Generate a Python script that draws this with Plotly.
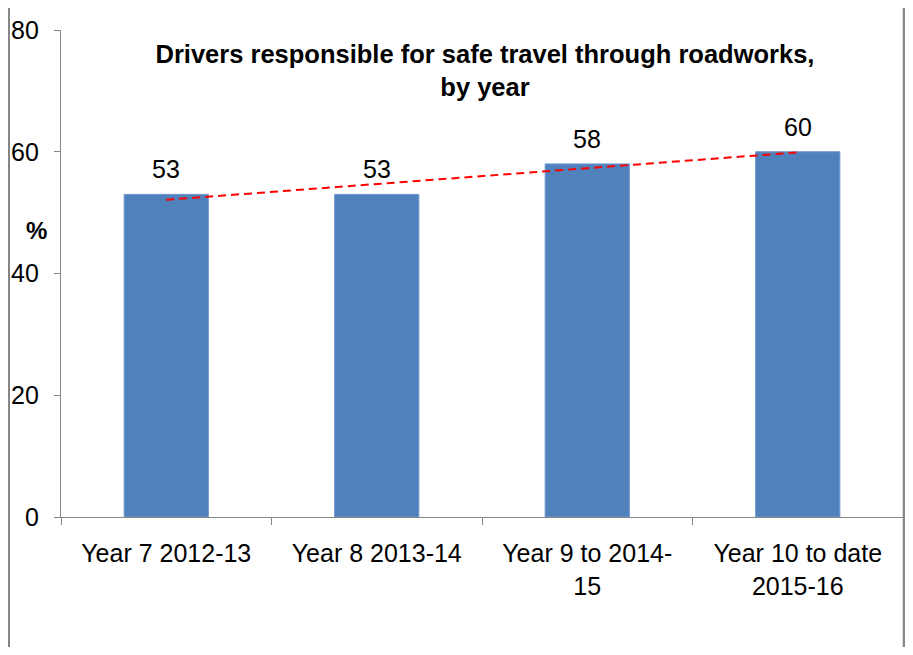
import numpy as np
import plotly.graph_objects as go

categories = ["Year 7 2012-13", "Year 8 2013-14", "Year 9 to 2014-<br>15", "Year 10 to date<br>2015-16"]
values = [53, 53, 58, 60]
y_ticks = [0, 20, 40, 60, 80]
title_text = "Drivers responsible for safe travel through roadworks,<br>by year"
y_title = "%"

# linear trendline (least squares) over category index
idx = np.arange(1, len(values) + 1)
slope, intercept = np.polyfit(idx, values, 1)
trend = slope * idx + intercept

FONT = "Arial, Liberation Sans, sans-serif"
GREY = "#868686"

# the page body has an 8px margin on every side; keep the figure inside the
# viewport (no scrollbars) and lay it out in page coords minus 8
OFF = 8
W, H = 913 - 2 * OFF, 655 - 2 * OFF
ML = 61 - OFF
MT = 30 - OFF
MR = W - (903 - OFF)
MB = H - (517 - OFF)
PW = W - ML - MR
PH = H - MT - MB

def px_to_paper_x(page_x):
    return (page_x - OFF - ML) / PW

def px_to_paper_y(page_y):
    return (H - MB - (page_y - OFF)) / PH

fig = go.Figure()
fig.add_trace(go.Bar(
    x=categories, y=values,
    marker=dict(color="#4F81BD", line=dict(color="#6F97CB", width=1)),
    hoverinfo="x+y",
))
fig.add_trace(go.Scatter(
    x=categories, y=trend, mode="lines",
    line=dict(color="#FF0000", width=2, dash="8px,5px"),
    hoverinfo="skip",
))

for c, v in zip(categories, values):
    fig.add_annotation(x=c, y=v, text=str(v), showarrow=False,
                       yanchor="bottom", yshift=9,
                       font=dict(family=FONT, size=25, color="black"))

fig.add_annotation(xref="paper", yref="paper",
                   x=px_to_paper_x(36), y=px_to_paper_y(230),
                   text="<b>" + y_title + "</b>", showarrow=False,
                   xanchor="center", yanchor="middle",
                   font=dict(family=FONT, size=24, color="black"))

for bx, bw in [(OFF + 1, 2), (904, 2.5)]:
    fig.add_shape(type="line", xref="paper", yref="paper",
                  x0=px_to_paper_x(bx), x1=px_to_paper_x(bx), y0=-1, y1=2,
                  line=dict(color=GREY, width=bw))

fig.update_layout(
    width=W, height=H,
    margin=dict(l=ML, r=MR, t=MT, b=MB, autoexpand=False),
    paper_bgcolor="white", plot_bgcolor="white",
    showlegend=False,
    bargap=0.6,
    title=dict(text="<b>" + title_text + "</b>", x=px_to_paper_x(485), xref="paper",
               xanchor="center", y=1 - 55 / H, yref="container", yanchor="top",
               font=dict(family=FONT, size=25.5, color="black")),
    font=dict(family=FONT, color="black"),
)
fig.update_xaxes(
    automargin=False,
    showline=True, linecolor=GREY, linewidth=1.3,
    ticks="outside", ticklen=7, tickcolor=GREY, tickwidth=1.3,
    tickson="boundaries", showgrid=False,
    tickfont=dict(family=FONT, size=25, color="black"),
    ticklabelstandoff=14,
)
fig.update_yaxes(
    automargin=False,
    range=[0, 80], tickvals=y_ticks,
    showline=True, linecolor=GREY, linewidth=1.3,
    ticks="outside", ticklen=6, tickcolor=GREY, tickwidth=1.3,
    showgrid=False, zeroline=False,
    tickfont=dict(family=FONT, size=25, color="black"),
    ticklabelstandoff=10,
)

fig.write_html("out.html")
